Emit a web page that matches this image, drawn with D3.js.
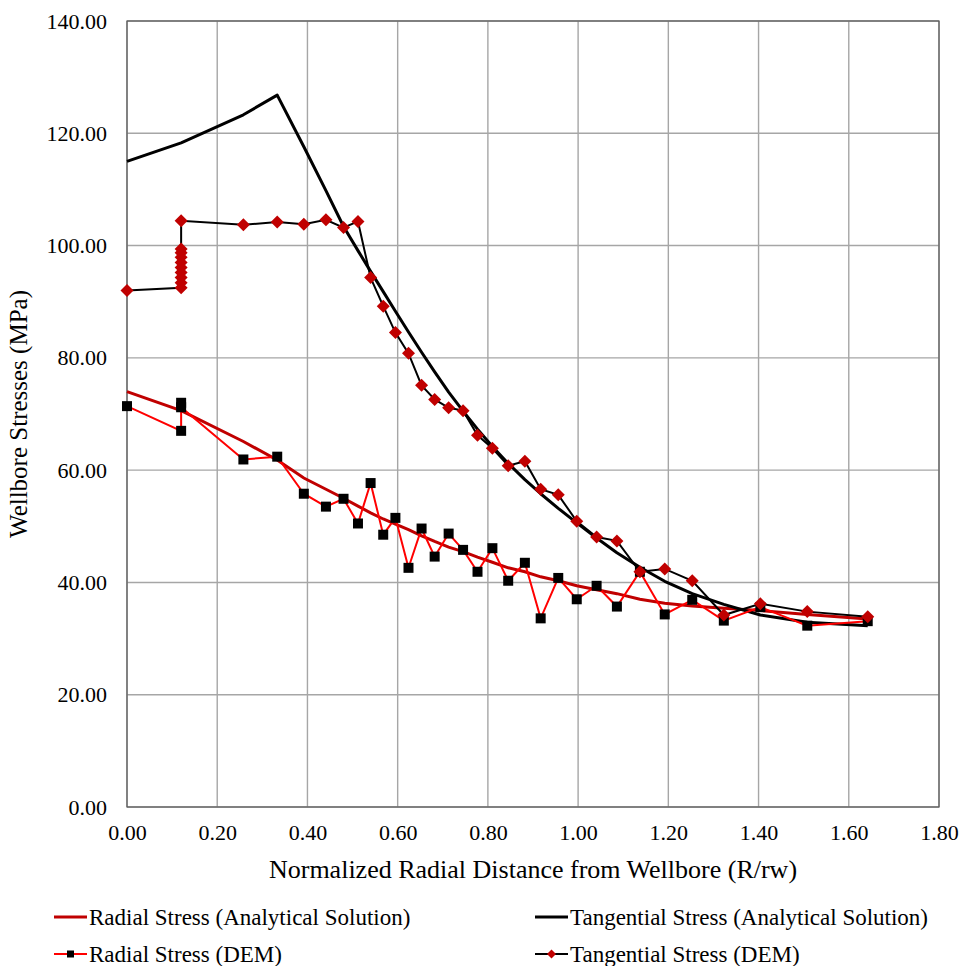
<!DOCTYPE html>
<html>
<head>
<meta charset="utf-8">
<script src="https://cdn.jsdelivr.net/npm/d3@7"></script>
<style>
  html, body { margin: 0; padding: 0; background: #fff; }
  svg { display: block; font-family: "Liberation Serif", "Times New Roman", serif; }
</style>
</head>
<body>
<svg id="chart" width="963" height="966"></svg>
<script>
// Analytical solutions (sampled along the normalized radius)
const analyticX = [0, 0.12, 0.258, 0.333, 0.392, 0.441, 0.48, 0.512, 0.540, 0.568, 0.595, 0.624,
  0.653, 0.682, 0.713, 0.745, 0.777, 0.810, 0.845, 0.882, 0.917, 0.956, 0.997, 1.041, 1.086,
  1.137, 1.192, 1.253, 1.323, 1.404, 1.508, 1.642];
const radialAnalytic = [74.0, 70.6, 65.1, 61.8, 58.6, 56.6, 55.0, 53.6, 52.4, 51.3, 50.4, 49.4,
  48.3, 47.3, 46.3, 45.5, 44.5, 43.6, 42.6, 41.9, 41.0, 40.3, 39.4, 38.7, 38.0,
  37.0, 36.3, 35.8, 35.4, 35.0, 34.3, 33.5];
const tangentialAnalytic = [115.0, 118.3, 123.3, 126.8, 117.6, 109.8, 103.4, 99.1, 95.4, 91.8, 88.3, 84.6,
  81.0, 77.5, 73.9, 70.5, 67.3, 64.2, 61.2, 58.3, 55.8, 53.2, 50.6, 47.9, 45.3,
  42.7, 40.2, 38.0, 36.1, 34.2, 32.9, 32.3];

// DEM results
const radialDemX = [0, 0.12, 0.12, 0.12, 0.258, 0.333, 0.392, 0.441, 0.48, 0.512, 0.540, 0.568,
  0.595, 0.624, 0.653, 0.682, 0.713, 0.745, 0.777, 0.810, 0.845, 0.882, 0.917, 0.956, 0.997,
  1.041, 1.086, 1.137, 1.192, 1.253, 1.323, 1.404, 1.508, 1.642];
const radialDem = [71.4, 67.0, 72.0, 71.2, 61.9, 62.4, 55.8, 53.5, 54.9, 50.5, 57.7, 48.5,
  51.5, 42.6, 49.6, 44.6, 48.7, 45.8, 41.9, 46.1, 40.3, 43.5, 33.6, 40.8, 37.0,
  39.4, 35.7, 41.9, 34.3, 36.9, 33.2, 35.6, 32.3, 33.1];

const tangentialDemX = [0, 0.12, 0.12, 0.12, 0.12, 0.12, 0.12, 0.12, 0.12, 0.12, 0.12,
  0.258, 0.333, 0.392, 0.441, 0.48, 0.512, 0.540, 0.568, 0.595, 0.624, 0.653, 0.682, 0.713,
  0.745, 0.777, 0.810, 0.845, 0.882, 0.917, 0.956, 0.997, 1.041, 1.086, 1.137, 1.192, 1.253,
  1.323, 1.404, 1.508, 1.642];
const tangentialDem = [92.0, 92.5, 93.4, 94.3, 95.2, 96.1, 97.0, 97.9, 98.7, 99.4, 104.4,
  103.7, 104.2, 103.8, 104.6, 103.2, 104.3, 94.3, 89.2, 84.5, 80.8, 75.1, 72.6, 71.1,
  70.6, 66.2, 63.9, 60.8, 61.6, 56.6, 55.6, 50.9, 48.1, 47.4, 41.9, 42.4, 40.3,
  34.2, 36.2, 34.8, 33.9];

const xTicks = [0, 0.2, 0.4, 0.6, 0.8, 1.0, 1.2, 1.4, 1.6, 1.8];
const yTicks = [0, 20, 40, 60, 80, 100, 120, 140];

const legendLabels = [
  "Radial Stress (Analytical Solution)",
  "Tangential Stress (Analytical Solution)",
  "Radial Stress (DEM)",
  "Tangential Stress (DEM)"
];

const svg = d3.select("#chart");
const plot = { left: 127, right: 939, top: 21, bottom: 807 };

const x = d3.scaleLinear().domain([0, 1.8]).range([plot.left, plot.right]);
const y = d3.scaleLinear().domain([0, 140]).range([plot.bottom, plot.top]);

const DARK_RED = "#C00000";
const RED = "#FF0000";
const GRID = "#a6a6a6";

// gridlines
svg.append("g")
  .selectAll("line.vx")
  .data(xTicks)
  .join("line")
  .attr("x1", d => x(d)).attr("x2", d => x(d))
  .attr("y1", plot.top).attr("y2", plot.bottom)
  .attr("stroke", GRID).attr("stroke-width", 1.4);
svg.append("g")
  .selectAll("line.hy")
  .data(yTicks)
  .join("line")
  .attr("x1", plot.left).attr("x2", plot.right)
  .attr("y1", d => y(d)).attr("y2", d => y(d))
  .attr("stroke", GRID).attr("stroke-width", 1.4);

// axes (labels only, frame drawn separately)
const xAxis = d3.axisBottom(x).tickValues(xTicks).tickFormat(d3.format(".2f")).tickSize(0).tickPadding(17);
const gx = svg.append("g").attr("transform", `translate(0,${plot.bottom})`).call(xAxis);
gx.select(".domain").remove();
gx.selectAll("text").attr("font-size", 22).attr("fill", "#000")
  .attr("font-family", "Liberation Serif, Times New Roman, serif");

const yAxis = d3.axisLeft(y).tickValues(yTicks).tickFormat(d3.format(".2f")).tickSize(0).tickPadding(20);
const gy = svg.append("g").attr("transform", `translate(${plot.left},0)`).call(yAxis);
gy.select(".domain").remove();
gy.selectAll("text").attr("font-size", 22).attr("fill", "#000")
  .attr("font-family", "Liberation Serif, Times New Roman, serif");

// plot frame
svg.append("rect")
  .attr("x", plot.left).attr("y", plot.top)
  .attr("width", plot.right - plot.left).attr("height", plot.bottom - plot.top)
  .attr("fill", "none").attr("stroke", "#595959").attr("stroke-width", 1.2);

// axis titles
svg.append("text")
  .attr("x", (plot.left + plot.right) / 2).attr("y", 878)
  .attr("text-anchor", "middle").attr("font-size", 26).attr("fill", "#000")
  .text("Normalized Radial Distance from Wellbore (R/rw)");
svg.append("text")
  .attr("transform", `translate(27,${(plot.top + plot.bottom) / 2}) rotate(-90)`)
  .attr("text-anchor", "middle").attr("font-size", 25).attr("fill", "#000")
  .text("Wellbore Stresses (MPa)");

const line = d3.line().x(d => x(d[0])).y(d => y(d[1]));

// analytical curves
svg.append("path")
  .datum(d3.zip(analyticX, radialAnalytic))
  .attr("d", line).attr("fill", "none").attr("stroke", DARK_RED).attr("stroke-width", 3);
svg.append("path")
  .datum(d3.zip(analyticX, tangentialAnalytic))
  .attr("d", line).attr("fill", "none").attr("stroke", "#000").attr("stroke-width", 3)
  .attr("stroke-linejoin", "round");

// radial DEM
const radialPts = d3.zip(radialDemX, radialDem);
svg.append("path")
  .datum(radialPts)
  .attr("d", line).attr("fill", "none").attr("stroke", RED).attr("stroke-width", 2);
svg.append("g").selectAll("path")
  .data(radialPts)
  .join("path")
  .attr("transform", d => `translate(${x(d[0])},${y(d[1])})`)
  .attr("d", d3.symbol(d3.symbolSquare, 100))
  .attr("fill", "#000");

// tangential DEM
const tangPts = d3.zip(tangentialDemX, tangentialDem);
svg.append("path")
  .datum(tangPts)
  .attr("d", line).attr("fill", "none").attr("stroke", "#000").attr("stroke-width", 2);
const diamond = "M0,-6.5L6.5,0L0,6.5L-6.5,0Z";
svg.append("g").selectAll("path")
  .data(tangPts)
  .join("path")
  .attr("transform", d => `translate(${x(d[0])},${y(d[1])})`)
  .attr("d", diamond)
  .attr("fill", DARK_RED);

// legend
const legend = svg.append("g").attr("font-size", 23).attr("fill", "#000");
const items = [
  { label: legendLabels[0], lx: 54, ly: 917, stroke: DARK_RED, w: 3, marker: null },
  { label: legendLabels[1], lx: 535, ly: 917, stroke: "#000", w: 3, marker: null },
  { label: legendLabels[2], lx: 54, ly: 954, stroke: RED, w: 2, marker: "square" },
  { label: legendLabels[3], lx: 535, ly: 954, stroke: "#000", w: 2, marker: "diamond" }
];
items.forEach(it => {
  const g = legend.append("g");
  g.append("line")
    .attr("x1", it.lx).attr("x2", it.lx + 33)
    .attr("y1", it.ly).attr("y2", it.ly)
    .attr("stroke", it.stroke).attr("stroke-width", it.w);
  const cx = it.lx + 16.5;
  if (it.marker === "square") {
    g.append("rect").attr("x", cx - 3.5).attr("y", it.ly - 3.5)
      .attr("width", 7).attr("height", 7).attr("fill", "#000");
  } else if (it.marker === "diamond") {
    g.append("path").attr("transform", `translate(${cx},${it.ly})`)
      .attr("d", "M0,-4.5L4.5,0L0,4.5L-4.5,0Z").attr("fill", DARK_RED);
  }
  g.append("text")
    .attr("x", it.lx + 35).attr("y", it.ly).attr("dy", "0.33em")
    .text(it.label);
});
</script>
</body>
</html>
